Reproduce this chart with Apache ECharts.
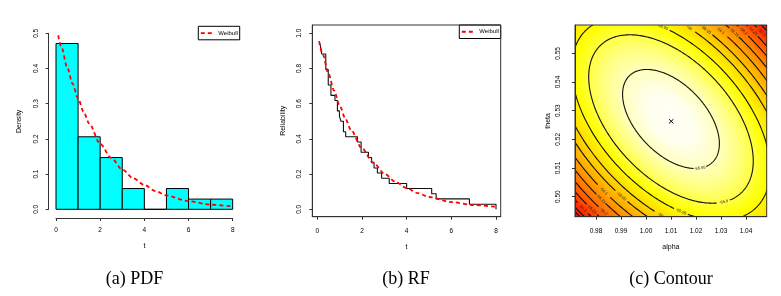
<!DOCTYPE html>
<html><head><meta charset="utf-8">
<script src="https://cdn.jsdelivr.net/npm/echarts@6/dist/echarts.min.js"></script>
<style>html,body{margin:0;padding:0;background:#fff}#c{width:781px;height:296px}</style>
</head><body><div id="c"></div>
<script>
// ---------- Panel (a) PDF ----------
const histBreaks = [0, 1, 2, 3, 4, 5, 6, 7, 8];
const histDensity = [0.471, 0.206, 0.147, 0.059, 0, 0.059, 0.029, 0.029];
const pdfT = [0.1, 0.25, 0.5, 0.75, 1, 1.25, 1.5, 2, 2.5, 3, 3.5, 4, 4.5, 5, 6, 7, 8];
const pdfY = [0.494, 0.46, 0.405, 0.357, 0.315, 0.277, 0.244, 0.186, 0.146, 0.113, 0.088, 0.069, 0.052, 0.039, 0.023, 0.013, 0.008];
const pdfXTicks = [0, 2, 4, 6, 8];
const pdfYTicks = [0, 0.1, 0.2, 0.3, 0.4, 0.5];

// ---------- Panel (b) RF ----------
const rfStepT = [0.12, 0.2, 0.38, 0.49, 0.61, 0.79, 0.9, 0.99, 1.06, 1.17, 1.27, 1.8, 1.96, 2.29, 2.43, 2.54, 2.69, 2.88, 3.22, 4.0, 5.12, 5.32, 6.81, 8.0];
const rfStepR = [0.941, 0.882, 0.794, 0.706, 0.647, 0.618, 0.559, 0.529, 0.5, 0.441, 0.412, 0.382, 0.324, 0.294, 0.265, 0.235, 0.206, 0.176, 0.147, 0.118, 0.088, 0.059, 0.029, 0];
const rfCurveT = [0.08, 0.25, 0.5, 0.75, 1, 1.25, 1.5, 2, 2.5, 3, 3.5, 4, 4.5, 5, 6, 7, 8];
const rfCurveR = [0.955, 0.878, 0.77, 0.674, 0.59, 0.517, 0.452, 0.346, 0.266, 0.203, 0.156, 0.12, 0.092, 0.07, 0.041, 0.024, 0.014];
const rfXTicks = [0, 2, 4, 6, 8];
const rfYTicks = [0, 0.2, 0.4, 0.6, 0.8, 1.0];

// ---------- Panel (c) Contour ----------
const mleAlpha = 1.0101, mleTheta = 0.5263;
const contourCenter = [1.0100, 0.5271];
const contourMajorTip = [1.02656, 0.51196];
const contourMinorTip = [0.99996, 0.51876];
const contourScale = [1, 1.70, 2.05, 2.37, 2.60, 2.84, 3.06, 3.27, 3.46, 3.62, 3.76, 3.85];
const contourLevel = ['-55.85', '-55.9', '-55.95', '-56', '-56.05', '-56.1', '-56.15', '-56.2', '-56.25', '-56.3', '-56.35', '-56.4'];
const labelContour = [0, 1, 2, 3, 4, 5, 6, 7, 8, 9, 2, 3, 4, 5, 6, 7, 8, 9];
const labelAlpha = [1.0216, 1.0312, 1.0056, 1.016, 1.0224, 1.0284, 1.034, 1.0384, 1.0424, 1.0452, 1.0144, 1.0072, 0.9916, 0.9836, 0.9816, 0.9844, 0.9792, 0.9744];
const labelTheta = [0.5102, 0.4983, 0.5574, 0.5567, 0.5567, 0.5560, 0.5557, 0.5564, 0.5567, 0.5571, 0.4954, 0.4954, 0.5009, 0.5023, 0.4995, 0.4957, 0.4957, 0.4957];
const alphaTicks = [0.98, 0.99, 1.00, 1.01, 1.02, 1.03, 1.04];
const thetaTicks = [0.50, 0.51, 0.52, 0.53, 0.54, 0.55];
const legendLabel = 'Weibull';

// ---------- styling ----------
const FONT = 'Liberation Sans';
const AXC = '#333';
const TXT = '#000';
const R_MAX = 4.2;
const heatStops = [
  [0, '#FFFFF6'], [0.119, '#FFFFEF'], [0.238, '#FFFFBE'], [0.333, '#FFFF7F'],
  [0.405, '#FFFF42'], [0.469, '#FFFF00'], [0.548, '#FFE100'], [0.619, '#FFC100'],
  [0.690, '#FF9D00'], [0.762, '#FF7500'], [0.833, '#FF4900'], [0.905, '#FF1900'], [0.940, '#FF0000'], [1, '#FF0000']
];

function xAx(grid, min, max, ticks, fmt, margin, name, gap, extra) {
  return Object.assign({
    type: 'value', gridIndex: grid, min, max, position: 'bottom',
    axisLine: { show: true, onZero: false, lineStyle: { color: AXC, width: 1 } },
    axisTick: { show: true, length: 3, customValues: ticks, lineStyle: { color: AXC, width: 1 } },
    axisLabel: { customValues: ticks, margin, fontSize: 6.5, fontFamily: FONT, color: TXT, formatter: fmt },
    splitLine: { show: false },
    name, nameLocation: 'middle', nameGap: gap,
    nameTextStyle: { fontSize: 7, fontFamily: FONT, color: TXT }
  }, extra || {});
}
function yAx(grid, min, max, ticks, fmt, margin, name, gap, extra) {
  return Object.assign({
    type: 'value', gridIndex: grid, min, max, position: 'left',
    axisLine: { show: true, onZero: false, lineStyle: { color: AXC, width: 1 } },
    axisTick: { show: true, length: 3, customValues: ticks, lineStyle: { color: AXC, width: 1 } },
    axisLabel: { customValues: ticks, margin, rotate: 90, fontSize: 6.5, fontFamily: FONT, color: TXT, formatter: fmt },
    splitLine: { show: false },
    name, nameLocation: 'middle', nameGap: gap, nameRotate: 90,
    nameTextStyle: { fontSize: 7, fontFamily: FONT, color: TXT }
  }, extra || {});
}

function ellipseFrame(api) {
  const c = api.coord(contourCenter);
  const a = api.coord(contourMajorTip);
  const b = api.coord(contourMinorTip);
  return { c, A: [a[0] - c[0], a[1] - c[1]], B: [b[0] - c[0], b[1] - c[1]] };
}

// legend box drawn as graphic (box right/top edge = plot region corner)
function legendBox(right, top) {
  const w = 41.4, h = 13.5, l = right - w;
  return { type: 'group', z: 50, children: [
    { type: 'rect', shape: { x: l, y: top, width: w, height: h }, style: { fill: '#fff', stroke: '#000', lineWidth: 1 } },
    { type: 'line', shape: { x1: l + 2.5, y1: top + h / 2, x2: l + 16.5, y2: top + h / 2 }, style: { stroke: '#FF0000', lineWidth: 1.8, lineDash: [4, 3] } },
    { type: 'text', x: l + 20, y: top + h / 2, style: { text: legendLabel, font: '6px "Liberation Sans"', fill: '#000', textAlign: 'left', textVerticalAlign: 'middle', align: 'left', verticalAlign: 'middle' } }
  ] };
}
function caption(x, text) {
  return { type: 'text', x, y: 279, style: { text, font: '18px "Liberation Serif"', fill: '#000', textAlign: 'center', textVerticalAlign: 'middle', align: 'center', verticalAlign: 'middle' } };
}

const chart = echarts.init(document.getElementById('c'), null, { renderer: 'canvas' });
const option = {
  animation: false,
  backgroundColor: '#fff',
  grid: [
    { left: 56, top: 33.3, width: 176.7, height: 176 },
    { left: 312.3, top: 25, width: 188.4, height: 191.7, show: true, borderColor: AXC, borderWidth: 1, backgroundColor: 'transparent', z: 10 },
    { left: 575, top: 25, width: 191.7, height: 191.7, show: true, borderColor: AXC, borderWidth: 1, backgroundColor: 'transparent', z: 10 }
  ],
  xAxis: [
    xAx(0, 0, 8, pdfXTicks, v => String(v), 9, 't', 24.5, { offset: 8.7 }),
    xAx(1, -0.224, 8.21, rfXTicks, v => String(v), 11, 't', 26.5),
    xAx(2, 0.9716, 1.0483, alphaTicks, v => v.toFixed(2), 11, 'alpha', 26.5, { z: 10 })
  ],
  yAxis: [
    yAx(0, 0, 0.5, pdfYTicks, v => v.toFixed(1), 8.5, 'Density', 26, { offset: 7.3 }),
    yAx(1, -0.042, 1.047, rfYTicks, v => v.toFixed(1), 10, 'Reliability', 26),
    yAx(2, 0.493, 0.5599, thetaTicks, v => v.toFixed(2), 13, 'theta', 23.5, { z: 10 })
  ],
  series: [
    {
      type: 'custom', name: 'hist', xAxisIndex: 0, yAxisIndex: 0,
      data: histDensity.map((d, i) => [histBreaks[i], histBreaks[i + 1], d]),
      encode: { x: [0, 1], y: 2 },
      renderItem(params, api) {
        const p0 = api.coord([api.value(0), api.value(2)]);
        const p1 = api.coord([api.value(1), 0]);
        return { type: 'rect', shape: { x: p0[0], y: p0[1], width: p1[0] - p0[0], height: p1[1] - p0[1] },
          style: { fill: '#00FFFF', stroke: '#000', lineWidth: 1 } };
      }
    },
    {
      type: 'line', name: 'Weibull', xAxisIndex: 0, yAxisIndex: 0,
      data: pdfT.map((t, i) => [t, pdfY[i]]), smooth: 0.3, smoothMonotone: 'x', symbol: 'none',
      lineStyle: { color: '#FF0000', width: 1.8, type: [4, 3] }, itemStyle: { color: '#FF0000' }, z: 5
    },
    {
      type: 'line', name: 'empirical', xAxisIndex: 1, yAxisIndex: 1,
      data: rfStepT.map((t, i) => [t, rfStepR[i]]), step: 'end', symbol: 'none',
      lineStyle: { color: '#111', width: 1.1 }
    },
    {
      type: 'line', name: 'Weibull', xAxisIndex: 1, yAxisIndex: 1,
      data: rfCurveT.map((t, i) => [t, rfCurveR[i]]), smooth: 0.3, smoothMonotone: 'x', symbol: 'none',
      lineStyle: { color: '#FF0000', width: 1.8, type: [4, 3] }, itemStyle: { color: '#FF0000' }, z: 5
    },
    {
      type: 'custom', name: 'surface', xAxisIndex: 2, yAxisIndex: 2, clip: true, silent: true, z: 1,
      data: [[contourCenter[0], contourCenter[1]]],
      renderItem(params, api) {
        const f = ellipseFrame(api);
        const la = Math.hypot(f.A[0], f.A[1]), lb = Math.hypot(f.B[0], f.B[1]);
        const phi = Math.atan2(f.A[1], f.A[0]);
        return { type: 'circle', shape: { cx: 0, cy: 0, r: 1 }, x: f.c[0], y: f.c[1],
          scaleX: la * R_MAX, scaleY: lb * R_MAX, rotation: -phi,
          style: { fill: new echarts.graphic.RadialGradient(0.5, 0.5, 0.5,
            heatStops.map(s => ({ offset: s[0], color: s[1] }))) } };
      }
    },
    {
      type: 'custom', name: 'contours', xAxisIndex: 2, yAxisIndex: 2, clip: true, silent: true, z: 3,
      data: contourScale.map((k, i) => [i, k]),
      encode: { x: -1, y: -1 },
      renderItem(params, api) {
        const i = api.value(0), k = api.value(1);
        const f = ellipseFrame(api);
        const N = 360, pts = [];
        for (let j = 0; j <= N; j++) {
          const t = j / N * 2 * Math.PI, ct = Math.cos(t), st = Math.sin(t);
          pts.push([f.c[0] + k * (ct * f.A[0] + st * f.B[0]), f.c[1] + k * (ct * f.A[1] + st * f.B[1])]);
        }
        const labs = [];
        for (let m = 0; m < labelContour.length; m++) {
          if (labelContour[m] !== i) continue;
          const p = api.coord([labelAlpha[m], labelTheta[m]]);
          let best = 0, bd = Infinity;
          for (let j = 0; j < N; j++) {
            const d = (pts[j][0] - p[0]) ** 2 + (pts[j][1] - p[1]) ** 2;
            if (d < bd) { bd = d; best = j; }
          }
          const q = pts[best], q1 = pts[(best + 2) % N], q0 = pts[(best - 2 + N) % N];
          let ang = Math.atan2(q1[1] - q0[1], q1[0] - q0[0]);
          if (ang > Math.PI / 2) ang -= Math.PI;
          if (ang < -Math.PI / 2) ang += Math.PI;
          labs.push({ x: q[0], y: q[1], ang });
        }
        const children = [];
        let seg = [];
        const flush = () => { if (seg.length > 1) children.push({ type: 'polyline', shape: { points: seg }, style: { stroke: '#111', lineWidth: 1.1, fill: null } }); seg = []; };
        for (const p of pts) {
          const hidden = labs.some(l => Math.hypot(p[0] - l.x, p[1] - l.y) < 6);
          if (hidden) flush(); else seg.push(p);
        }
        flush();
        labs.forEach(l => children.push({ type: 'text', x: l.x, y: l.y, rotation: -l.ang,
          style: { text: contourLevel[i], fontSize: 4, fontFamily: FONT, fill: '#222', align: 'center', verticalAlign: 'middle' } }));
        return { type: 'group', children };
      }
    },
    {
      type: 'custom', name: 'mle', xAxisIndex: 2, yAxisIndex: 2, z: 4, silent: true,
      data: [[mleAlpha, mleTheta]],
      renderItem(params, api) {
        const p = api.coord([api.value(0), api.value(1)]), s = 2.2;
        return { type: 'group', children: [
          { type: 'line', shape: { x1: p[0] - s, y1: p[1] - s, x2: p[0] + s, y2: p[1] + s }, style: { stroke: '#000', lineWidth: 1 } },
          { type: 'line', shape: { x1: p[0] - s, y1: p[1] + s, x2: p[0] + s, y2: p[1] - s }, style: { stroke: '#000', lineWidth: 1 } }
        ] };
      }
    }
  ],
  graphic: [
    legendBox(239.7, 26.3),
    legendBox(500.7, 25),
    caption(134.5, '(a) PDF'),
    caption(406, '(b) RF'),
    caption(671, '(c) Contour')
  ]
};
chart.setOption(option);
</script>
</body></html>
